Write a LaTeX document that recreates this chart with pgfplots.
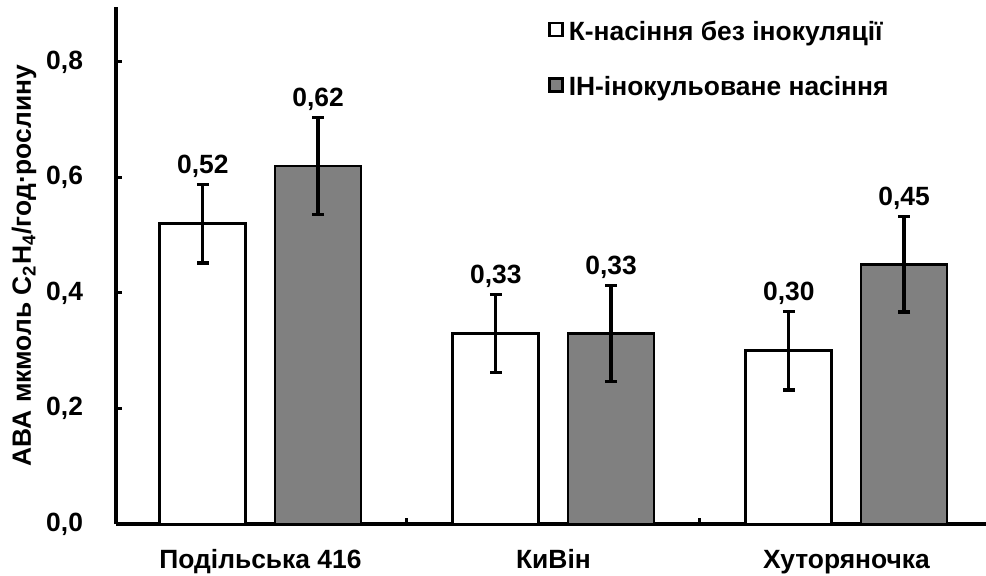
\documentclass[border=0pt]{standalone}
\usepackage{fontspec}
\setmainfont{Liberation Sans}
\usepackage{pgfplots}
\pgfplotsset{compat=1.18}
\usepackage{pgfplotstable}

\pgfplotstableread{
x y err top lab
0 0.52 0.068 0.588 0,52
1 0.33 0.068 0.398 0,33
2 0.30 0.068 0.368 0,30
}\tableK
\pgfplotstableread{
x y err top lab
0 0.62 0.084 0.704 0,62
1 0.33 0.083 0.413 0,33
2 0.45 0.083 0.533 0,45
}\tableI

\newcommand{\tfont}{\fontsize{13.2}{15}\selectfont\bfseries}

\begin{document}
\begin{tikzpicture}[font=\tfont]
\begin{axis}[
  at={(0,0)}, anchor=south west,
  x=146.5pt, y=288.75pt,
  xmin=-0.493, xmax=2.476, ymin=0, ymax=0.895,
  axis x line*=bottom, axis y line*=left,
  axis line style={-, line width=2pt, black},
  ybar,
  clip=false,
  tick align=inside,
  major tick length=3pt, minor tick length=3pt,
  tick style={black, line width=1.5pt},
  every major x tick/.append style={draw=none},
  xtick={0,1,2},
  minor xtick={0.5,1.5},
  xticklabels={Подільська 416, КиВін, Хуторяночка},
  xticklabel style={anchor=base, yshift=-22pt, font=\tfont},
  ytick={0,0.2,0.4,0.6,0.8},
  yticklabel style={xshift=-13pt, font=\tfont},
  /pgf/number format/.cd, fixed, fixed zerofill, precision=1, use comma, assume math mode=true,
  /pgfplots/.cd,
  ylabel={АВА мкмоль C\textsubscript{2}H\textsubscript{4}/год·рослину},
  ylabel style={at={(axis description cs:-0.1057,0.5)}, anchor=center, font=\tfont},
  legend style={at={(axis description cs:0.4966,0.975)}, anchor=north west,
    draw=none, fill=none, inner sep=0pt, row sep=15.5pt, column sep=2pt, font=\tfont,
    nodes={inner sep=0.5pt}},
  legend cell align=left,
  /pgfplots/ybar legend/.style={},
  error bars/error bar style={line width=1.6pt, black},
  error bars/error mark options={rotate=90, mark size=3pt, line width=1.6pt, black},
]
\addplot[bar width=43pt, bar shift=-28.8pt, fill=white, draw=black, line width=1.4pt,
  legend image code/.code={%
    \draw[fill=white, draw=black, line width=1.2pt] (0pt,-1.8pt) rectangle (6.5pt,4.7pt);},
  error bars/.cd, y dir=both, y explicit]
  table[x=x, y=y, y error=err] {\tableK};
\addlegendentry{К-насіння без інокуляції}
\addplot[bar width=43pt, bar shift=28.8pt, fill=black!50, draw=black, line width=1.4pt,
  legend image code/.code={%
    \draw[fill=black!50, draw=black, line width=1.2pt] (0pt,-1.8pt) rectangle (6.5pt,4.7pt);},
  error bars/.cd, y dir=both, y explicit]
  table[x=x, y=y, y error=err] {\tableI};
\addlegendentry{ІН-інокульоване насіння}
% value labels above the error bars
\addplot[forget plot, bar width=43pt, bar shift=-28.8pt, draw=none, fill=none,
  nodes near coords, point meta=explicit symbolic,
  every node near coord/.append style={anchor=base, inner sep=0pt, font=\tfont, yshift=5.5pt}]
  table[x=x, y=top, meta=lab] {\tableK};
\addplot[forget plot, bar width=43pt, bar shift=28.8pt, draw=none, fill=none,
  nodes near coords, point meta=explicit symbolic,
  every node near coord/.append style={anchor=base, inner sep=0pt, font=\tfont, yshift=5.5pt}]
  table[x=x, y=top, meta=lab] {\tableI};
\end{axis}
\pgfresetboundingbox
\useasboundingbox (-58pt,-25.5pt) rectangle (435pt,262pt);
\end{tikzpicture}
\end{document}
